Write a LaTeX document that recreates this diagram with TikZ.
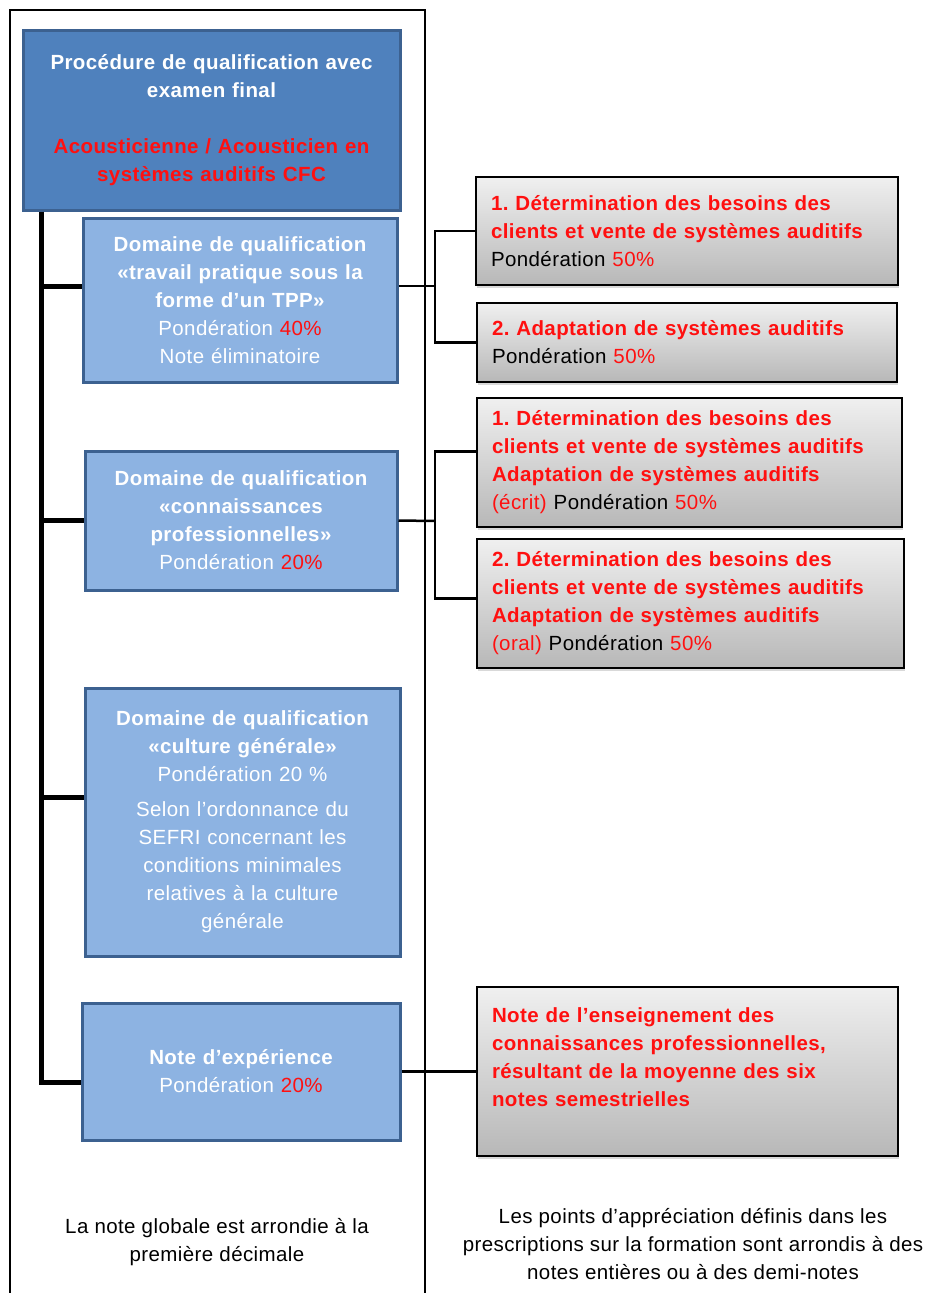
\documentclass[tikz,border=0pt]{standalone}
\usepackage{fontspec}
\setmainfont{Liberation Sans}[LetterSpace=2]
\frenchspacing
\usetikzlibrary{calc,shadows}
\definecolor{bleufonce}{HTML}{4F81BD}
\definecolor{bleuclair}{HTML}{8DB3E2}
\definecolor{bleubord}{HTML}{3C6190}
\definecolor{rouge}{HTML}{FF1010}

\begin{document}
\begin{tikzpicture}[x=1pt,y=-1pt,
  every node/.style={font=\fontsize{20.5}{28}\selectfont},
  bluebox/.style={draw=bleubord,line width=3pt,fill=bleuclair,text=white,align=center,inner xsep=5pt,inner ysep=0pt},
  topbox/.style={bluebox,fill=bleufonce},
  graybox/.style={draw=black,line width=1.5pt,top color=black!6,bottom color=black!28,align=left,inner xsep=15pt,inner ysep=0pt,
    drop shadow={opacity=0.3,shadow xshift=1pt,shadow yshift=-3pt}},
  trunk/.style={line width=5pt},
  link/.style={line width=2.5pt}]
\useasboundingbox (0,0) rectangle (935,1293);
% outer frame, open at the bottom
\draw[line width=2pt] (10,1293) -- (10,10) -- (425,10) -- (425,1293);

% left column
\node[topbox,text width=367pt,minimum height=180pt] (top) at (211.5,120)
  {\bfseries Procédure de qualification avec\\examen final\\[28pt]
   {\color{rouge}Acousticienne / Acousticien en\\systèmes auditifs CFC}};
\node[bluebox,text width=304pt,minimum height=164pt] (tpp) at (240,300)
  {{\bfseries Domaine de qualification\\«travail pratique sous la\\forme d’un TPP»}\\
   Pondération {\color{rouge}40\%}\\Note éliminatoire};
\node[bluebox,text width=302pt,minimum height=139pt] (connpro) at (241,520.5)
  {{\bfseries Domaine de qualification\\«connaissances\\professionnelles»}\\
   Pondération {\color{rouge}20\%}};
\node[bluebox,text width=305pt,minimum height=268pt] (culture) at (242.5,822)
  {{\bfseries Domaine de qualification\\«culture générale»}\\
   Pondération 20 \%\\[7pt]
   Selon l’ordonnance du\\SEFRI concernant les\\conditions minimales\\relatives à la culture\\générale};
\node[bluebox,text width=308pt,minimum height=137pt] (experience) at (241,1071.5)
  {{\bfseries Note d’expérience}\\Pondération {\color{rouge}20\%}};

% right column
\node[graybox,text width=392pt,minimum height=108pt] (besoins) at (687,231)
  {{\color{rouge}\bfseries 1. Détermination des besoins des\\clients et vente de systèmes auditifs}\\
   Pondération {\color{rouge}50\%}};
\node[graybox,text width=390pt,minimum height=79pt] (adaptation) at (687,342.5)
  {{\color{rouge}\bfseries 2. Adaptation de systèmes auditifs}\\
   Pondération {\color{rouge}50\%}};
\node[graybox,text width=395pt,minimum height=129pt] (ecrit) at (689.5,462.5)
  {{\color{rouge}\bfseries 1. Détermination des besoins des\\clients et vente de systèmes auditifs\\Adaptation de systèmes auditifs}\\
   {\color{rouge}(écrit)} Pondération {\color{rouge}50\%}};
\node[graybox,text width=397pt,minimum height=129pt] (oral) at (690.5,603.5)
  {{\color{rouge}\bfseries 2. Détermination des besoins des\\clients et vente de systèmes auditifs\\Adaptation de systèmes auditifs}\\
   {\color{rouge}(oral)} Pondération {\color{rouge}50\%}};
\node[graybox,text width=391pt,minimum height=169pt] (semestre) at (687.5,1071.5)
  {{\color{rouge}\bfseries Note de l’enseignement des\\connaissances professionnelles,\\résultant de la moyenne des six\\notes semestrielles}\par\mbox{}};

% notes at the bottom
\node[align=center] (arrondie) at (217,1242) {La note globale est arrondie à la\\première décimale};
\node[align=center] (points) at (693,1244)
  {Les points d’appréciation définis dans les\\prescriptions sur la formation sont arrondis à des\\notes entières ou à des demi-notes};

% trunk on the left
\coordinate (t0) at ([xshift=20pt]top.south west);
\draw[trunk] (t0) |- ([yshift=-10.5pt]experience.west);
\coordinate (k2) at ([yshift=14pt]tpp.west);
\coordinate (k3) at (connpro.west);
\coordinate (k4) at ([yshift=25pt]culture.west);
\draw[trunk] (k2) -- (k2 -| t0);
\draw[trunk] (k3) -- (k3 -| t0);
\draw[trunk] (k4) -- (k4 -| t0);

% links to the right column
\coordinate (j2) at (435,286);
\draw[link] (tpp.east |- j2) -- (j2);
\draw[link] (besoins.west) -| (j2) |- (adaptation.west);
\coordinate (j3) at (435,521);
\draw[link] (connpro.east) -- (j3);
\draw[link] ([yshift=11pt]ecrit.west) -| (j3) |- ([yshift=5pt]oral.west);
\draw[link] (experience.east) -- (experience.east -| semestre.west);
\end{tikzpicture}
\end{document}
